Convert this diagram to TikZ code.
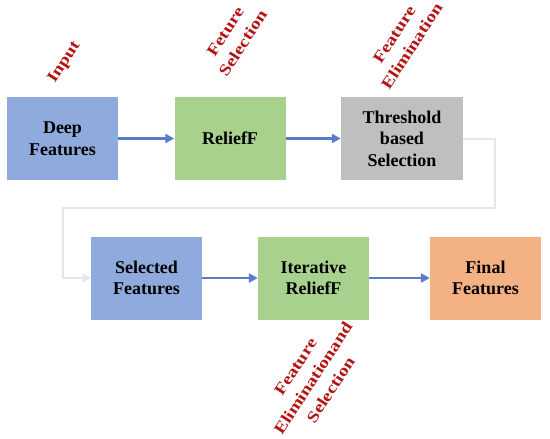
\documentclass[tikz,border=0pt]{standalone}
\usepackage{fontspec}
\setmainfont{Liberation Serif}
\usetikzlibrary{arrows.meta}
\definecolor{boxblue}{HTML}{8FAADC}
\definecolor{boxgreen}{HTML}{A9D18E}
\definecolor{boxgray}{HTML}{BFBFBF}
\definecolor{boxorange}{HTML}{F4B183}
\definecolor{arrowblue}{HTML}{5A7CC8}
\definecolor{fbline}{HTML}{E3E7F2}
\definecolor{lblred}{HTML}{B41414}
\tikzset{
  stepbox/.style={minimum width=111pt, minimum height=83pt, inner sep=0pt, align=center,
    font=\fontsize{18}{21.5}\selectfont\bfseries, text=black},
  flow/.style={draw=arrowblue, line width=2.4pt, -{Triangle[length=9pt,width=9pt]}},
  fb/.style={draw=fbline, line width=2pt, -{Triangle[length=8pt,width=9pt]}},
  lbl/.style={rotate=57, text=lblred, inner sep=0pt, align=center,
    font=\fontsize{16}{21}\selectfont\bfseries}
}
\newcommand{\stretchlbl}[1]{\scalebox{1.22}[1]{\begin{tabular}{@{}c@{}}#1\end{tabular}}}
\begin{document}
\begin{tikzpicture}[x=1pt,y=-1pt]
\useasboundingbox (0,0) rectangle (550,439);
\node[stepbox, fill=boxblue]   (deep)  at (62.5,138.5) {Deep\\Features};
\node[stepbox, fill=boxgreen]  (relf)  at (230,138.5) {ReliefF};
\node[stepbox, fill=boxgray, minimum width=122pt] (thr) at (402,138.5) {Threshold\\based\\Selection};
\node[stepbox, fill=boxblue]   (sel)   at (146.5,278) {Selected\\Features};
\node[stepbox, fill=boxgreen]  (iter)  at (313.5,278) {Iterative\\ReliefF};
\node[stepbox, fill=boxorange] (final) at (485.5,278) {Final\\Features};
\coordinate (c1) at (495,138.5);
\coordinate (c2) at (495,208);
\coordinate (c3) at (63,208);
\coordinate (c4) at (63,278);
\draw[flow] (deep) -- (relf);
\draw[flow] (relf) -- (thr);
\draw[flow] (sel) -- (iter);
\draw[flow] (iter) -- (final);
\draw[fb] (thr.east) -- (c1) -- (c2) -- (c3) -- (c4) -- (sel.west);
\node[lbl] (lin) at (64,62) {\stretchlbl{Input}};
\node[lbl] (lfs) at (235,38) {\stretchlbl{Feture\\Selection}};
\node[lbl] (lfe) at (404,41) {\stretchlbl{Feature\\Elimination}};
\node[lbl] (lfes) at (314,379) {\stretchlbl{Feature\\Eliminationand\\Selection}};
\end{tikzpicture}
\end{document}
